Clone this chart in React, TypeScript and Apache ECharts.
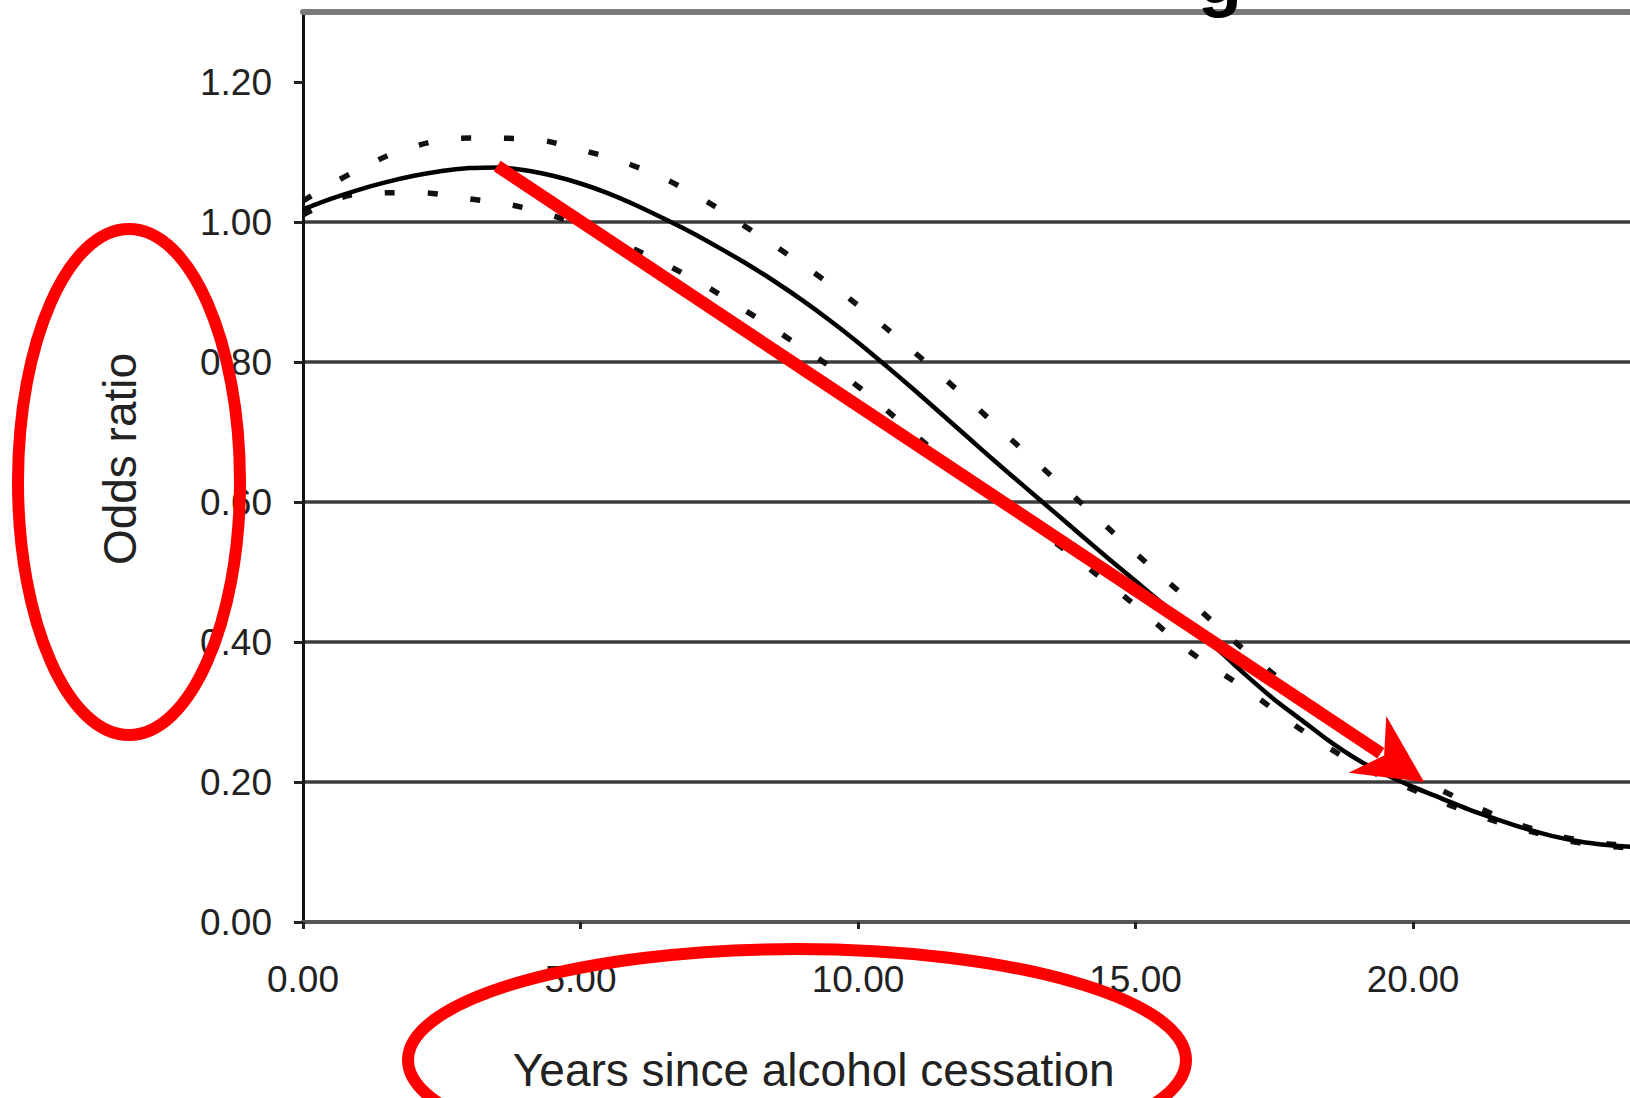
import React, { useEffect, useRef } from "react";
import * as echarts from "echarts";

// ---- data ----
const years = [
  0, 0.5, 1, 1.5, 2, 2.5, 3, 3.5, 4, 4.5, 5, 5.5, 6, 6.5, 7, 7.5, 8, 8.5, 9, 9.5,
  10, 10.5, 11, 11.5, 12, 12.5, 13, 13.5, 14, 14.5, 15, 15.5, 16, 16.5, 17, 17.5,
  18, 18.5, 19, 19.5, 20, 20.5, 21, 21.5, 22, 22.5, 23, 23.5, 24, 24.5, 25,
];
const oddsRatio = [
  1.018, 1.033, 1.046, 1.057, 1.066, 1.073, 1.077, 1.078, 1.074, 1.066, 1.055,
  1.041, 1.024, 1.005, 0.985, 0.963, 0.94, 0.915, 0.888, 0.859, 0.828, 0.795,
  0.761, 0.726, 0.691, 0.656, 0.622, 0.588, 0.554, 0.52, 0.487, 0.454, 0.422,
  0.388, 0.352, 0.318, 0.288, 0.258, 0.232, 0.211, 0.193, 0.177, 0.161, 0.147,
  0.134, 0.123, 0.115, 0.11, 0.107, 0.106, 0.106,
];
const boundYears = [
  0, 1, 2, 3, 4, 5, 6, 7, 8, 9, 10, 11, 12, 13, 14, 15, 16, 17, 18, 19, 20, 21,
  22, 23, 24, 25,
];
const upperCI = [
  1.03, 1.075, 1.108, 1.12, 1.119, 1.103, 1.079, 1.042, 0.992, 0.939, 0.881,
  0.815, 0.745, 0.672, 0.6, 0.527, 0.457, 0.386, 0.322, 0.26, 0.21, 0.17, 0.137,
  0.117, 0.109, 0.107,
];
const lowerCI = [
  1.01, 1.04, 1.042, 1.033, 1.02, 0.995, 0.96, 0.92, 0.872, 0.82, 0.765, 0.698,
  0.632, 0.575, 0.515, 0.452, 0.385, 0.332, 0.274, 0.225, 0.189, 0.157, 0.132,
  0.113, 0.106, 0.105,
];
const xTickValues = [0, 5, 10, 15, 20];
const yTickValues = [0, 0.2, 0.4, 0.6, 0.8, 1.0, 1.2];
const xTitle = "Years since alcohol cessation";
const yTitle = "Odds ratio";
const titleFragment = "g";
const arrowFrom = [3.5, 1.08];
const arrowTo = [20.2, 0.2];

const FONT = "'Liberation Sans', Arial, sans-serif";

export default function App() {
  const ref = useRef<HTMLDivElement>(null);

  useEffect(() => {
    if (!ref.current) return;
    const chart = echarts.init(ref.current, null, { renderer: "svg" });

    const pairs = (xs: number[], ys: number[]) => xs.map((x, i) => [x, ys[i]]);

    chart.setOption({
      animation: false,
      backgroundColor: "#ffffff",
      grid: {
        left: 303,
        top: 12,
        width: 1387.5,
        height: 910,
        containLabel: false,
        outerBoundsMode: "none",
      },
      xAxis: [
        {
          type: "value",
          min: 0,
          max: 25,
          interval: 5,
          name: xTitle,
          nameLocation: "middle",
          nameGap: 125,
          nameTextStyle: {
            fontFamily: FONT,
            fontSize: 46,
            color: "#222",
            padding: [0, 366, 0, 0],
          },
          axisLine: { show: true, onZero: false, lineStyle: { color: "#555", width: 4 } },
          axisTick: {
            show: true,
            length: 7,
            customValues: xTickValues,
            lineStyle: { color: "#222", width: 3 },
          },
          axisLabel: {
            margin: 39,
            fontFamily: FONT,
            fontSize: 37,
            color: "#222",
            customValues: xTickValues,
            formatter: (v: number) => v.toFixed(2),
          },
          splitLine: { show: false },
        },
        {
          type: "value",
          position: "top",
          min: 0,
          max: 25,
          interval: 5,
          axisLine: {
            show: true,
            onZero: false,
            lineStyle: { color: "#7a7a7a", width: 6, type: [2, 2] },
          },
          axisTick: { show: false },
          axisLabel: { show: false },
          splitLine: { show: false },
        },
      ],
      yAxis: {
        type: "value",
        min: 0,
        max: 1.3,
        interval: 0.1,
        name: yTitle,
        nameLocation: "middle",
        nameRotate: 90,
        nameGap: 160,
        nameTextStyle: {
          fontFamily: FONT,
          fontSize: 46,
          color: "#222",
          padding: [0, 0, 0, 16],
        },
        axisLine: { show: true, onZero: false, lineStyle: { color: "#111", width: 3 } },
        axisTick: {
          show: true,
          length: 9,
          customValues: yTickValues,
          lineStyle: { color: "#222", width: 3 },
        },
        axisLabel: {
          margin: 31,
          fontFamily: FONT,
          fontSize: 37,
          color: "#222",
          customValues: yTickValues,
          formatter: (v: number) => v.toFixed(2),
        },
        splitLine: {
          show: true,
          showMinLine: false,
          showMaxLine: false,
          interval: (index: number) => index % 2 === 0,
          lineStyle: { color: "#3d3d3d", width: 3.5 },
        },
      },
      series: [
        {
          type: "line",
          name: "Odds ratio",
          data: pairs(years, oddsRatio),
          showSymbol: false,
          smooth: 0.3,
          lineStyle: { color: "#000", width: 4.5 },
          z: 3,
        },
        {
          type: "line",
          name: "Upper 95% CI",
          data: pairs(boundYears, upperCI),
          showSymbol: false,
          smooth: 0.4,
          lineStyle: { color: "#111", width: 5.5, type: [10, 33] },
          z: 2,
        },
        {
          type: "line",
          name: "Lower 95% CI",
          data: pairs(boundYears, lowerCI),
          showSymbol: false,
          smooth: 0.4,
          lineStyle: { color: "#111", width: 5.5, type: [10, 33] },
          z: 2,
        },
      ],
    });

    const p0 = chart.convertToPixel({ xAxisIndex: 0, yAxisIndex: 0 }, arrowFrom) as number[];
    const p1 = chart.convertToPixel({ xAxisIndex: 0, yAxisIndex: 0 }, arrowTo) as number[];
    const dx = p1[0] - p0[0];
    const dy = p1[1] - p0[1];
    const len = Math.sqrt(dx * dx + dy * dy);
    const ux = dx / len;
    const uy = dy / len;
    const nx = -uy;
    const ny = ux;
    const headLen = 68;
    const halfW = 34;
    const notch = 48;
    const barb1 = [p1[0] - ux * headLen + nx * halfW, p1[1] - uy * headLen + ny * halfW];
    const barb2 = [p1[0] - ux * headLen - nx * halfW, p1[1] - uy * headLen - ny * halfW];
    const notchPt = [p1[0] - ux * notch, p1[1] - uy * notch];
    const shaftEnd = [p1[0] - ux * (notch + 4), p1[1] - uy * (notch + 4)];

    chart.setOption({
      graphic: [
        {
          type: "text",
          left: 1198,
          top: -58,
          z: 10,
          style: {
            text: titleFragment,
            fontFamily: FONT,
            fontWeight: "bold",
            fontSize: 72,
            fill: "#000",
          },
        },
        {
          type: "ellipse",
          z: 20,
          shape: { cx: 129, cy: 482, rx: 111, ry: 253 },
          style: { fill: "none", stroke: "#ff0000", lineWidth: 12 },
        },
        {
          type: "ellipse",
          z: 20,
          shape: { cx: 797, cy: 1060, rx: 389, ry: 111 },
          style: { fill: "none", stroke: "#ff0000", lineWidth: 12 },
        },
        {
          type: "line",
          z: 20,
          shape: { x1: p0[0], y1: p0[1], x2: shaftEnd[0], y2: shaftEnd[1] },
          style: { stroke: "#ff0000", lineWidth: 12.5, lineCap: "butt" },
        },
        {
          type: "polygon",
          z: 20,
          shape: { points: [p1, barb1, notchPt, barb2] },
          style: { fill: "#ff0000", stroke: "none" },
        },
      ],
    });

    return () => chart.dispose();
  }, []);

  return (
    <div
      style={{
        position: "fixed",
        left: 0,
        top: 0,
        width: 1630,
        height: 1098,
        overflow: "hidden",
        background: "#fff",
      }}
    >
      <div ref={ref} style={{ position: "absolute", left: 0, top: 0, width: 1720, height: 1098 }} />
    </div>
  );
}
